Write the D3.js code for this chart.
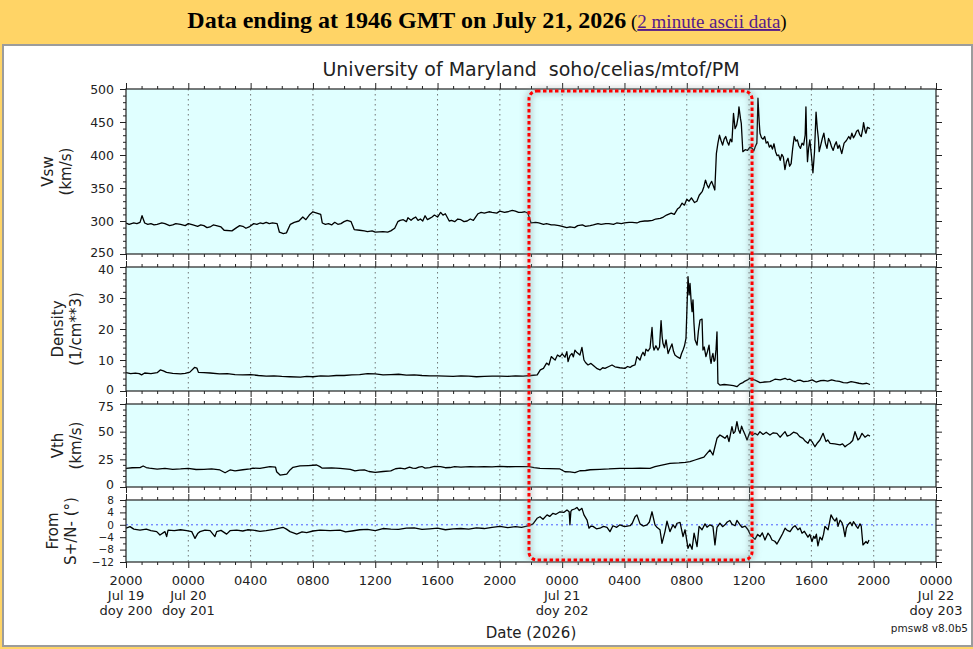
<!DOCTYPE html>
<html>
<head>
<meta charset="utf-8">
<script src="https://cdn.jsdelivr.net/npm/d3@7"></script>
<style>
  body { margin: 0; background: #ffd466; }
  svg { display: block; }
</style>
</head>
<body>
<svg id="chart"></svg>
<script>
// hours after 2000 UT Jul 19 2026, value
const vswData = [
  [0,297],[0.2,295],[0.5,297],[0.7,296],[0.9,298],[1.03,308],[1.2,297],[1.4,295],[1.6,296],[1.8,294],[2.0,295],[2.3,297],[2.5,296],
  [2.8,293],[3.0,294],[3.2,296],[3.5,295],[3.8,293],[4.0,296],[4.3,294],[4.6,292],[4.8,294],[5.0,293],[5.2,290],[5.4,291],[5.6,294],
  [5.8,293],[6.1,291],[6.3,286],[6.8,285],[7.1,290],[7.3,293],[7.5,292],[7.7,289],[7.9,291],[8.2,296],[8.4,295],[8.6,297],[8.8,296],
  [9.0,298],[9.2,296],[9.4,297],[9.7,296],[9.85,283],[10.1,281],[10.3,282],[10.55,295],[10.8,298],[11.1,300],[11.35,306],[11.55,302],
  [11.8,310],[12.0,314],[12.25,312],[12.5,310],[12.6,297],[12.8,295],[13.0,296],[13.2,294],[13.4,298],[13.6,295],[13.8,296],[14.0,299],
  [14.2,301],[14.45,299],[14.65,287],[15.0,286],[15.3,285],[15.5,284],[15.8,285],[16.0,283],[16.5,284],[16.8,283],[17.0,285],
  [17.25,289],[17.45,299],[17.6,301],[17.8,302],[18.0,299],[18.1,305],[18.3,301],[18.45,304],[18.6,306],[18.75,301],[18.9,303],[19.05,300],
  [19.2,308],[19.35,302],[19.5,304],[19.65,306],[19.8,309],[20.0,306],[20.2,313],[20.35,309],[20.5,311],[20.75,300],[20.9,301],[21.1,299],
  [21.3,303],[21.5,302],[21.7,299],[21.9,300],[22.1,303],[22.3,301],[22.6,311],[22.8,313],[23.0,312],[23.3,314],[23.5,313],[23.8,312],
  [24.0,315],[24.3,313],[24.5,314],[24.8,316],[25.0,315],[25.2,313],[25.4,313],[25.6,314],[25.8,312],[26.0,297],[26.3,298],[26.5,297],
  [26.8,295],[27.0,296],[27.3,294],[27.5,294],[27.8,293],[28.0,292],[28.3,290],[28.5,291],[28.8,290],[29.0,293],[29.3,294],[29.5,292],
  [29.8,293],[30.0,294],[30.3,296],[30.5,295],[30.8,296],[31.0,296],[31.3,295],[31.5,297],[31.8,296],[32.0,297],[32.3,298],[32.5,298],
  [32.8,297],[33.0,299],[33.3,300],[33.5,300],[33.8,301],[34.0,303],[34.3,304],[34.5,306],[34.7,309],[35.0,312],[35.2,310],[35.4,318],
  [35.55,321],[35.7,327],[35.85,324],[36.0,333],[36.15,330],[36.3,335],[36.5,328],[36.65,330],[36.8,339],[37.0,345],[37.1,352],[37.2,362],
  [37.3,355],[37.4,350],[37.5,356],[37.6,360],[37.8,347],[37.9,402],[38.0,418],[38.1,430],[38.2,422],[38.3,415],[38.4,424],[38.5,428],
  [38.6,420],[38.7,415],[38.8,424],[38.9,420],[39.0,463],[39.1,440],[39.2,445],[39.3,458],[39.35,473],[39.45,455],[39.5,448],[39.6,405],
  [39.75,408],[39.9,407],[40.05,412],[40.2,410],[40.3,406],[40.4,413],[40.5,418],[40.57,486],[40.65,450],[40.7,433],[40.8,426],[40.9,424],
  [41.0,428],[41.1,418],[41.2,420],[41.3,412],[41.4,415],[41.5,409],[41.6,417],[41.7,405],[41.8,399],[41.9,400],[42.0,392],[42.1,401],
  [42.2,397],[42.3,378],[42.4,390],[42.5,395],[42.6,383],[42.7,387],[42.8,410],[42.9,428],[43.0,421],[43.1,423],[43.2,414],[43.3,410],
  [43.4,418],[43.5,415],[43.6,430],[43.65,473],[43.7,420],[43.75,390],[43.82,410],[43.9,423],[44.0,400],[44.1,373],[44.2,405],[44.3,465],
  [44.38,440],[44.45,425],[44.5,405],[44.6,415],[44.7,425],[44.8,433],[44.9,418],[45.0,410],[45.1,425],[45.2,420],[45.3,412],[45.4,407],
  [45.5,415],[45.6,420],[45.7,410],[45.8,415],[45.95,402],[46.1,418],[46.25,422],[46.4,428],[46.5,424],[46.6,433],[46.7,426],[46.8,430],
  [46.9,436],[47.0,438],[47.1,431],[47.2,428],[47.3,440],[47.35,449],[47.45,436],[47.5,433],[47.6,442],[47.76,440]
];

const densData = [
  [0,5.9],[0.3,5.6],[0.6,5.8],[0.85,5.6],[1.0,5.2],[1.2,5.8],[1.6,5.6],[2.0,5.9],[2.2,6.8],[2.4,6.5],[2.6,6.0],[3.0,5.7],[3.5,5.5],
  [3.8,5.7],[4.1,6.1],[4.4,7.6],[4.55,7.4],[4.65,6.0],[5.0,5.9],[5.4,5.8],[6.0,5.5],[6.5,5.6],[7.0,5.3],[7.5,5.2],[8.0,5.3],[8.5,5.0],
  [9.0,4.8],[9.5,4.9],[10.0,4.7],[10.5,4.6],[11.2,4.5],[11.6,4.7],[12,4.6],[12.5,4.9],[13,4.8],[13.5,5.0],[14,5.0],[14.5,5.2],
  [15,5.3],[15.5,5.6],[16,5.5],[16.5,5.2],[17,5.3],[17.5,5.4],[18,5.1],[18.5,5.2],[19,5.0],[19.5,4.9],[20,4.9],[20.5,4.8],[21,4.7],
  [21.5,4.9],[22,4.8],[22.5,4.6],[23,4.7],[23.5,4.8],[24,4.8],[24.5,4.7],[25,4.9],[25.5,4.8],[26.0,5.0],[26.4,5.2],[26.6,6.8],
  [26.8,7.3],[27.0,9.0],[27.15,8.4],[27.3,11.1],[27.45,10.4],[27.55,10.0],[27.7,11.6],[27.86,11.1],[28.0,12.0],[28.18,10.9],
  [28.3,12.7],[28.38,9.5],[28.5,11.4],[28.63,12.1],[28.72,11.0],[28.82,13.2],[28.95,12.4],[29.14,11.6],[29.27,14.1],[29.4,10.0],
  [29.5,9.2],[29.66,8.4],[29.85,8.9],[30.1,7.8],[30.25,7.2],[30.43,6.8],[30.6,7.5],[30.75,7.3],[31.0,7.9],[31.2,8.4],[31.39,7.8],
  [31.7,7.5],[32.03,7.3],[32.2,7.9],[32.36,7.6],[32.5,8.1],[32.68,8.4],[32.8,11.1],[33.0,10.0],[33.1,11.6],[33.19,12.5],[33.3,11.4],
  [33.38,13.5],[33.51,12.9],[33.64,13.8],[33.77,20.5],[33.84,14.5],[33.9,13.2],[34.02,14.6],[34.15,13.2],[34.25,14.2],[34.35,22.7],
  [34.42,17.5],[34.47,15.4],[34.57,13.9],[34.67,16.5],[34.8,12.1],[34.92,13.6],[35.05,15.2],[35.15,12.8],[35.24,11.6],[35.4,11.0],
  [35.57,10.5],[35.66,12.0],[35.76,13.2],[35.85,14.5],[35.95,17.0],[36.08,36.9],[36.15,31.0],[36.21,34.7],[36.28,29.0],[36.34,25.6],
  [36.4,29.4],[36.46,22.0],[36.53,16.5],[36.66,14.8],[36.75,19.5],[36.85,22.9],[36.98,23.2],[37.04,13.2],[37.12,14.2],[37.23,11.1],
  [37.32,12.6],[37.43,14.8],[37.5,10.6],[37.56,8.9],[37.62,11.0],[37.68,12.1],[37.75,9.6],[37.81,10.0],[37.88,13.5],[37.94,19.1],
  [38.0,2.5],[38.13,1.9],[38.4,2.1],[38.77,1.9],[39.0,1.7],[39.22,1.4],[39.42,2.3],[39.6,2.7],[39.74,3.2],[39.9,3.6],[40.06,4.1],
  [40.2,3.8],[40.38,3.5],[40.55,3.1],[40.7,2.7],[41.0,2.9],[41.34,3.0],[41.5,3.4],[41.66,3.8],[42.0,3.6],[42.31,4.1],[42.45,3.7],
  [42.63,3.8],[42.8,3.3],[42.95,3.0],[43.1,3.4],[43.27,3.5],[43.5,3.0],[43.8,3.2],[44.05,3.6],[44.3,2.9],[44.55,3.3],[44.8,3.4],
  [45.05,3.2],[45.3,3.6],[45.55,3.3],[45.8,3.1],[46.05,2.7],[46.3,2.6],[46.55,3.0],[46.8,2.8],[47.05,2.5],[47.3,2.3],[47.55,2.5],
  [47.76,2.1]
];

const vthData = [
  [0,16.9],[0.4,17.4],[0.9,17.5],[1.1,19],[1.3,17.6],[1.5,17],[2.0,16.2],[2.5,16.8],[3.0,16.0],[3.5,16.3],[4.0,16.8],[4.5,15.8],
  [5,16],[5.5,16.4],[6.03,15.4],[6.36,12.9],[6.68,15.4],[7.0,14.5],[7.5,15.6],[7.96,16.3],[8.15,17],[8.6,16.8],[9.24,18.4],[9.6,18],
  [9.67,13.8],[9.89,10.8],[10.32,11.7],[10.53,15.4],[10.72,17.8],[11.17,19],[11.7,19.4],[12.24,19.9],[12.45,18.4],[12.6,17],
  [13.2,17.2],[13.74,16.8],[14.4,16],[14.7,14.5],[15.0,15.2],[15.3,15.5],[15.6,14.0],[16.0,13.2],[16.5,14],[17.0,14.5],[17.3,16.5],
  [17.6,17],[17.9,16.4],[18.2,18],[18.4,17.0],[18.6,16.8],[18.8,17.9],[19.0,18.5],[19.2,17.1],[19.5,17.5],[19.8,18.6],[20.2,18.5],
  [20.5,17.4],[20.8,17.6],[21.1,18.4],[21.5,18],[22.1,18.5],[22.5,18.1],[23,18.4],[23.5,18.2],[24,18.6],[24.5,18.3],[25,18.5],
  [25.87,18.4],[26.2,17.6],[26.58,16.9],[27.2,16.6],[27.86,16.3],[28.18,13.8],[28.5,13.6],[28.82,12.9],[29.14,14.7],[29.5,14.9],
  [29.8,15.6],[30.43,16],[31.0,16.3],[31.71,16.9],[32.5,16.9],[33.0,17.1],[33.64,16.9],[33.96,18.4],[34.4,19.8],[34.92,21.4],
  [35.5,21.8],[35.9,22.3],[36.21,22.9],[36.53,24.4],[36.85,25.9],[37.1,27.0],[37.3,30.4],[37.49,33.4],[37.68,28.9],[37.94,44],
  [38.13,47],[38.3,45.5],[38.45,44],[38.6,46.5],[38.71,41],[38.9,54.5],[39.0,48.5],[39.1,50],[39.22,59],[39.32,52],[39.42,48.5],
  [39.52,55],[39.61,51.5],[39.75,47],[39.87,42.5],[40.06,50],[40.2,46.5],[40.38,48.5],[40.55,47],[40.7,50],[40.9,47.5],[41.1,49.5],
  [41.34,47],[41.55,49],[41.79,48.5],[41.99,45],[42.15,47.5],[42.31,50],[42.45,46],[42.63,47],[42.85,49.5],[43.08,48.5],[43.25,45.5],
  [43.46,44],[43.6,41.5],[43.78,39.5],[43.9,43],[44.04,41],[44.23,36.4],[44.4,40],[44.55,42.5],[44.75,48.5],[44.94,41],[45.05,42.5],
  [45.2,39.5],[45.5,39],[45.84,38],[46.0,39],[46.16,36.4],[46.3,38],[46.48,39.5],[46.65,42],[46.8,50],[46.99,42.5],[47.1,44],
  [47.25,48.5],[47.44,45],[47.63,47],[47.76,46]
];

const angData = [
  [0,-1.1],[0.26,-0.6],[0.5,-1.4],[0.9,-1.7],[1.3,-1.4],[1.6,-1.9],[1.97,-2.2],[2.18,-3.3],[2.5,-2.2],[2.61,-3.8],[2.7,-1.7],
  [3.1,-1.9],[3.5,-1.6],[3.9,-1.9],[4.22,-2.2],[4.43,-4.4],[4.62,-2.7],[4.75,-2.2],[5.07,-1.7],[5.4,-1.9],[5.71,-3.8],[5.82,-2.2],
  [6.1,-1.8],[6.46,-3.0],[6.68,-1.9],[7.1,-1.7],[7.5,-2.0],[7.8,-1.6],[8.15,-1.7],[8.6,-2.1],[9.0,-1.9],[9.5,-1.5],[10.08,-0.8],
  [10.3,-1.4],[10.53,-2.2],[10.75,-2.6],[10.96,-3.0],[11.3,-2.3],[11.6,-2.5],[12.0,-2.0],[12.45,-1.7],[13.1,-1.9],[13.74,-1.7],
  [14.1,-2.3],[14.5,-2.0],[15.0,-1.6],[15.5,-1.5],[16.0,-1.9],[16.5,-1.2],[17.0,-1.4],[17.5,-1.5],[18.0,-1.1],[18.5,-1.0],
  [19.0,-1.5],[19.5,-1.3],[20.0,-1.1],[20.5,-1.6],[21.0,-1.3],[21.5,-1.2],[22.0,-1.4],[22.5,-1.0],[23.0,-1.2],[23.5,-0.8],
  [24.01,-0.5],[24.5,-0.9],[25.0,-0.6],[25.4,-0.8],[25.87,-0.3],[26.13,0.3],[26.39,2.1],[26.58,2.6],[26.77,1.8],[27.03,3.2],
  [27.2,2.7],[27.41,3.7],[27.6,3.4],[27.86,4.2],[28.1,4.0],[28.31,4.8],[28.45,4.2],[28.5,0],[28.56,4.3],[28.63,4.8],[28.8,5.1],
  [28.95,5.6],[29.1,4.6],[29.27,5.3],[29.4,3.2],[29.6,1.5],[29.72,-1.1],[29.85,-0.4],[29.98,-0.5],[30.2,-1.3],[30.43,-1.1],
  [30.65,-0.5],[30.88,-0.8],[31.07,-2.2],[31.26,-0.3],[31.5,-0.8],[31.71,0],[32.0,-0.6],[32.36,-0.3],[32.5,0.5],[32.68,2.6],
  [32.8,3.2],[33.0,0.3],[33.2,-0.4],[33.45,0],[33.6,0.9],[33.77,4.2],[33.96,0],[34.1,-0.9],[34.28,-1.6],[34.41,-6.0],[34.6,-2.2],
  [34.73,1.2],[34.92,-2.2],[35.12,0],[35.25,-1.0],[35.37,0.5],[35.57,0.8],[35.76,-3.8],[35.89,-1.6],[36.08,-7.6],[36.2,-6.2],
  [36.34,-7.9],[36.47,-2.7],[36.66,-7.0],[36.79,-0.5],[36.98,-1.6],[37.17,0.3],[37.3,-0.8],[37.49,0],[37.68,-0.5],[37.81,-6.5],
  [37.94,-0.8],[38.13,0.5],[38.3,-0.6],[38.45,0],[38.6,0.9],[38.77,1.4],[38.9,0.2],[39.1,-0.3],[39.22,1.4],[39.4,0.1],[39.55,-0.8],
  [39.75,-0.4],[39.93,-1.6],[40.05,-2.9],[40.19,-3.8],[40.38,-4.7],[40.55,-3.1],[40.7,-3.8],[40.85,-2.6],[41.02,-4.9],[41.21,-2.7],
  [41.35,-3.6],[41.47,-4.9],[41.65,-5.3],[41.79,-6.2],[41.99,-4.4],[42.15,-2.9],[42.31,-1.1],[42.45,-1.8],[42.63,-2.2],[42.8,-0.9],
  [42.95,-0.3],[43.14,-1.6],[43.27,-1.0],[43.4,-2.7],[43.55,-2.1],[43.78,-4.0],[43.9,-3.1],[44.04,-5.4],[44.15,-3.7],[44.23,-4.4],
  [44.32,-3.0],[44.42,-6.8],[44.55,-4.0],[44.68,-4.9],[44.78,-3.1],[44.87,-0.5],[45.07,-1.6],[45.26,3.2],[45.4,1.9],[45.52,1.2],
  [45.62,2.2],[45.71,-0.5],[45.84,1.5],[45.95,0.8],[46.03,-0.3],[46.16,-3.8],[46.25,-1.0],[46.35,0],[46.5,0.8],[46.61,-0.3],[46.7,1.0],
  [46.8,0.3],[46.9,-0.6],[46.99,-1.1],[47.12,0.3],[47.2,-0.4],[47.31,-6.5],[47.51,-5.4],[47.6,-6.0],[47.7,-4.9]
];

const vswTicks = [250, 300, 350, 400, 450, 500];
const densTicks = [0, 10, 20, 30, 40];
const vthTicks = [0, 25, 50, 75];
const angTicks = [-12, -8, -4, 0, 4, 8];

const headerText = 'Data ending at 1946 GMT on July 21, 2026';
const linkText = '2 minute ascii data';
const titleText = 'University of Maryland  soho/celias/mtof/PM';
const highlightHours = [25.87, 40.19];

const W = 973, H = 649;
const startTime = Date.UTC(2026, 6, 19, 20);
const endTime = Date.UTC(2026, 6, 22, 0);
const hourToDate = h => new Date(startTime + h * 3600e3);
const plotLeft = 126, plotRight = 936;
const font = '"DejaVu Sans", sans-serif';

const svg = d3.select('#chart').attr('width', W).attr('height', H);

// page header
const head = svg.append('text')
  .attr('x', 487).attr('y', 28)
  .attr('text-anchor', 'middle')
  .style('font-family', '"Liberation Serif", "Times New Roman", serif');
head.append('tspan').attr('font-weight', 'bold').attr('font-size', 24).text(headerText);
head.append('tspan').attr('font-size', 19).text(' (');
head.append('tspan').attr('font-size', 19).attr('fill', '#551a8b')
  .attr('text-decoration', 'underline').text(linkText);
head.append('tspan').attr('font-size', 19).text(')');

// white plot card
svg.append('rect')
  .attr('x', 3).attr('y', 45).attr('width', 969).attr('height', 601)
  .attr('fill', '#fff').attr('stroke', '#9c9c9c').attr('stroke-width', 2);

const x = d3.scaleUtc().domain([startTime, endTime]).range([plotLeft, plotRight]);
const majorX = d3.utcHour.every(4).range(new Date(startTime), new Date(endTime + 1));
const minorX = d3.utcHour.every(1).range(new Date(startTime), new Date(endTime + 1));

// nt / nb: vertical nudge of the top / bottom tick label so neighbours do not collide
const panels = [
  { data: vswData, ticks: vswTicks, minor: 10, top: 89, bottom: 254, label: ['Vsw', '(km/s)'], lx: 53, fs: 12.5, nt: 0, nb: -2 },
  { data: densData, ticks: densTicks, minor: 2, top: 267, bottom: 391, label: ['Density', '(1/cm**3)'], lx: 63, fs: 12.5, nt: 2, nb: -2 },
  { data: vthData, ticks: vthTicks, minor: 5, top: 404, bottom: 487, label: ['Vth', '(km/s)'], lx: 63, fs: 12.5, nt: 2, nb: -3 },
  { data: angData, ticks: angTicks, minor: 2, top: 500, bottom: 562, label: ['From', 'S+/N- (\u00b0)'], lx: 58, fs: 10.5, nt: 0, nb: 0, zeroLine: true }
];

const defs = svg.append('defs');

panels.forEach((p, i) => {
  const lo = d3.min(p.ticks), hi = d3.max(p.ticks);
  const y = d3.scaleLinear().domain([lo, hi]).range([p.bottom, p.top]);
  const g = svg.append('g');

  g.append('rect')
    .attr('x', plotLeft).attr('y', p.top)
    .attr('width', plotRight - plotLeft).attr('height', p.bottom - p.top)
    .attr('fill', '#e0ffff');

  // dotted vertical grid
  g.selectAll('.grid').data(majorX.slice(1, -1)).join('line')
    .attr('x1', d => x(d)).attr('x2', d => x(d))
    .attr('y1', p.top).attr('y2', p.bottom)
    .attr('stroke', '#666').attr('stroke-width', 0.9)
    .attr('stroke-dasharray', '1.5,3.5');

  if (p.zeroLine) {
    g.append('line')
      .attr('x1', plotLeft).attr('x2', plotRight)
      .attr('y1', y(0)).attr('y2', y(0))
      .attr('stroke', '#4a5cff').attr('stroke-width', 1)
      .attr('stroke-dasharray', '2,3');
  }

  const clipId = 'clip' + i;
  defs.append('clipPath').attr('id', clipId).append('rect')
    .attr('x', plotLeft).attr('y', p.top)
    .attr('width', plotRight - plotLeft).attr('height', p.bottom - p.top);

  const line = d3.line()
    .x(d => x(hourToDate(d[0])))
    .y(d => y(d[1]));

  g.append('path')
    .datum(p.data)
    .attr('clip-path', `url(#${clipId})`)
    .attr('d', line)
    .attr('fill', 'none')
    .attr('stroke', '#000')
    .attr('stroke-width', 1.3)
    .attr('stroke-linejoin', 'round');

  // x ticks, outward on top and bottom
  const minorOnly = minorX.filter(d => d.getUTCHours() % 4 !== 0);
  [[d3.axisTop, p.top], [d3.axisBottom, p.bottom]].forEach(([axisFn, yy]) => {
    g.append('g').attr('transform', `translate(0,${yy})`)
      .call(axisFn(x).tickValues(majorX).tickSize(6).tickFormat(''))
      .call(a => a.select('.domain').remove());
    g.append('g').attr('transform', `translate(0,${yy})`)
      .call(axisFn(x).tickValues(minorOnly).tickSize(3).tickFormat(''))
      .call(a => a.select('.domain').remove());
  });

  // y ticks left (labelled) and right
  const minorY = d3.range(lo, hi + 0.001, p.minor).filter(v => !p.ticks.includes(v));
  g.append('g').attr('transform', `translate(${plotLeft},0)`)
    .call(d3.axisLeft(y).tickValues(p.ticks).tickSize(6).tickPadding(6))
    .call(a => a.select('.domain').remove())
    .call(a => a.selectAll('text')
      .attr('font-size', p.fs).attr('font-family', font).attr('fill', '#222')
      .attr('y', d => d === hi ? p.nt : d === lo ? p.nb : 0));
  g.append('g').attr('transform', `translate(${plotLeft},0)`)
    .call(d3.axisLeft(y).tickValues(minorY).tickSize(3).tickFormat(''))
    .call(a => a.select('.domain').remove());
  g.append('g').attr('transform', `translate(${plotRight},0)`)
    .call(d3.axisRight(y).tickValues(p.ticks).tickSize(6).tickFormat(''))
    .call(a => a.select('.domain').remove());
  g.append('g').attr('transform', `translate(${plotRight},0)`)
    .call(d3.axisRight(y).tickValues(minorY).tickSize(3).tickFormat(''))
    .call(a => a.select('.domain').remove());

  g.append('rect')
    .attr('x', plotLeft).attr('y', p.top)
    .attr('width', plotRight - plotLeft).attr('height', p.bottom - p.top)
    .attr('fill', 'none').attr('stroke', '#222').attr('stroke-width', 1.2);

  // two-line rotated y label
  const cy = (p.top + p.bottom) / 2;
  p.label.forEach((t, k) => {
    svg.append('text')
      .attr('transform', `translate(${p.lx + k * 17.5},${cy}) rotate(-90)`)
      .attr('text-anchor', 'middle')
      .attr('font-family', font).attr('font-size', 15).attr('fill', '#222')
      .text(t);
  });
});

svg.selectAll('.tick line').attr('stroke', '#222');

// bottom tick labels: time, date, day of year
const fmtHM = d3.utcFormat('%H%M');
const fmtDate = d3.utcFormat('%b %d');
const fmtDoy = d3.utcFormat('%j');
const bottomY = panels[panels.length - 1].bottom;
majorX.forEach(d => {
  const lines = [fmtHM(d)];
  if (d.getUTCHours() === 0 || +d === startTime) {
    lines.push(fmtDate(d), 'doy ' + fmtDoy(d));
  }
  const t = svg.append('text')
    .attr('text-anchor', 'middle')
    .attr('font-family', font).attr('font-size', 13).attr('fill', '#222');
  lines.forEach((s, k) => {
    t.append('tspan').attr('x', x(d)).attr('y', bottomY + 23 + k * 15).text(s);
  });
});

svg.append('text')
  .attr('x', (plotLeft + plotRight) / 2).attr('y', 638)
  .attr('text-anchor', 'middle')
  .attr('font-family', font).attr('font-size', 15).attr('fill', '#222')
  .text('Date (2026)');

svg.append('text')
  .attr('x', (plotLeft + plotRight) / 2).attr('y', 76)
  .attr('text-anchor', 'middle')
  .attr('font-family', font).attr('font-size', 19).attr('fill', '#222')
  .style('white-space', 'pre')
  .text(titleText);

svg.append('text')
  .attr('x', 968).attr('y', 632)
  .attr('text-anchor', 'end')
  .attr('font-family', font).attr('font-size', 10.5).attr('fill', '#222')
  .text('pmsw8 v8.0b5');

// highlighted interval: soft shadow under a red dotted rounded box
const blur = defs.append('filter').attr('id', 'soft')
  .attr('x', '-20%').attr('y', '-20%').attr('width', '140%').attr('height', '140%');
blur.append('feGaussianBlur').attr('stdDeviation', 3);

const bx0 = x(hourToDate(highlightHours[0]));
const bx1 = x(hourToDate(highlightHours[1]));
const by0 = panels[0].top + 2;
const by1 = panels[panels.length - 1].bottom - 2;

svg.append('rect')
  .attr('x', bx0).attr('y', by0)
  .attr('width', bx1 - bx0).attr('height', by1 - by0)
  .attr('rx', 8)
  .attr('fill', 'none').attr('stroke', '#8a9a9a').attr('stroke-opacity', 0.45)
  .attr('stroke-width', 6).attr('filter', 'url(#soft)');

svg.append('rect')
  .attr('x', bx0).attr('y', by0)
  .attr('width', bx1 - bx0).attr('height', by1 - by0)
  .attr('rx', 8)
  .attr('fill', 'none').attr('stroke', '#ff0000')
  .attr('stroke-width', 3).attr('stroke-dasharray', '3.5,2.5');
</script>
</body>
</html>
